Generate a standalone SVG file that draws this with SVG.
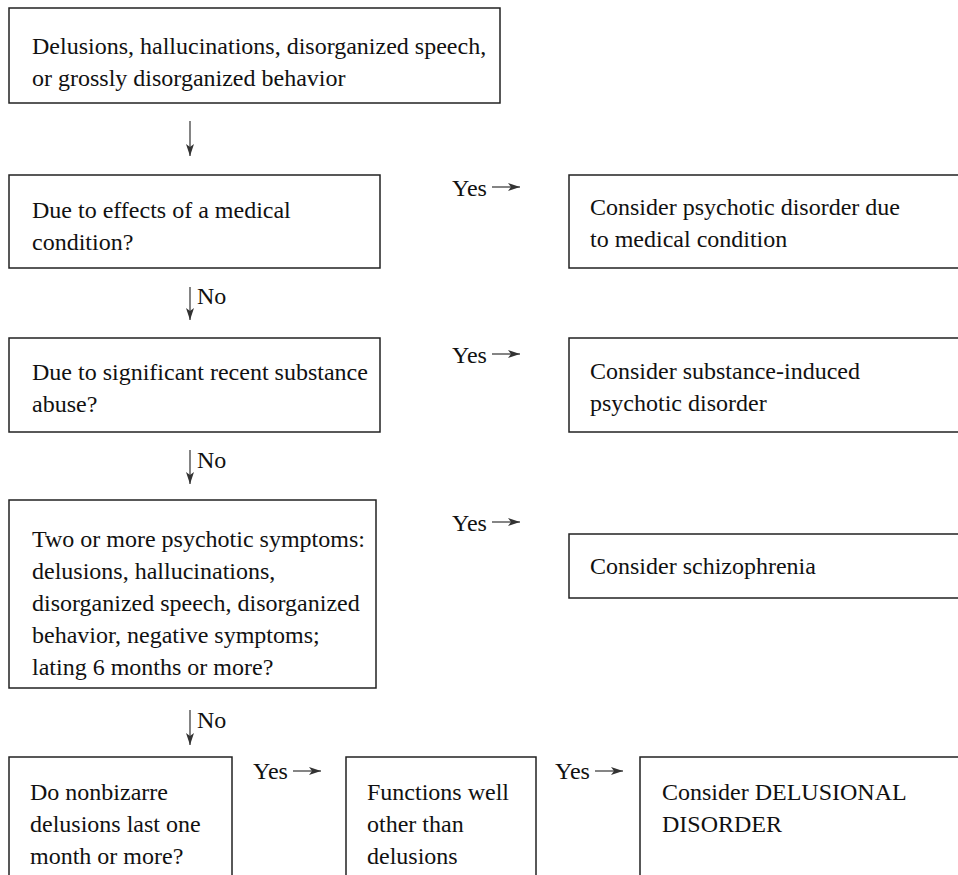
<svg xmlns="http://www.w3.org/2000/svg" width="958" height="875" viewBox="0 0 958 875">
<defs>
<style>
.box{fill:#fff;stroke:#222;stroke-width:1.5}
.t{font-size:24px;fill:#111}
.c{stroke:#333;stroke-width:1.2;fill:none}
</style>
<marker id="ah" viewBox="0 0 12 8" refX="12" refY="4" markerWidth="12" markerHeight="8" markerUnits="userSpaceOnUse" orient="auto">
<path d="M0,0 L12,4 L0,8 L3,4 Z" fill="#333"/>
</marker>
</defs>
<rect width="958" height="875" fill="#fff"/>
<g font-family="'Liberation Serif', Tinos, 'Times New Roman', 'DejaVu Serif', serif">
<g id="n1"><rect class="box" x="9" y="8" width="491" height="95"/>
<text class="t" x="32" y="54">Delusions, hallucinations, disorganized speech,</text>
<text class="t" x="32" y="86">or grossly disorganized behavior</text></g>
<g id="n2"><rect class="box" x="9" y="175" width="371" height="93"/>
<text class="t" x="32" y="218">Due to effects of a medical</text>
<text class="t" x="32" y="250">condition?</text></g>
<g id="r1"><rect class="box" x="569" y="175" width="400" height="93"/>
<text class="t" x="590" y="215">Consider psychotic disorder due</text>
<text class="t" x="590" y="247">to medical condition</text></g>
<g id="n3"><rect class="box" x="9" y="338" width="371" height="94"/>
<text class="t" x="32" y="380">Due to significant recent substance</text>
<text class="t" x="32" y="412">abuse?</text></g>
<g id="r2"><rect class="box" x="569" y="338" width="400" height="94"/>
<text class="t" x="590" y="379">Consider substance-induced</text>
<text class="t" x="590" y="411">psychotic disorder</text></g>
<g id="n4"><rect class="box" x="9" y="500" width="367" height="188"/>
<text class="t" x="32" y="547">Two or more psychotic symptoms:</text>
<text class="t" x="32" y="579">delusions, hallucinations,</text>
<text class="t" x="32" y="611">disorganized speech, disorganized</text>
<text class="t" x="32" y="643">behavior, negative symptoms;</text>
<text class="t" x="32" y="675">lating 6 months or more?</text></g>
<g id="r3"><rect class="box" x="569" y="534" width="400" height="64"/>
<text class="t" x="590" y="574">Consider schizophrenia</text></g>
<g id="n5"><rect class="box" x="9" y="757" width="223" height="140"/>
<text class="t" x="30" y="800">Do nonbizarre</text>
<text class="t" x="30" y="832">delusions last one</text>
<text class="t" x="30" y="864">month or more?</text></g>
<g id="n6"><rect class="box" x="346" y="757" width="190" height="140"/>
<text class="t" x="367" y="800">Functions well</text>
<text class="t" x="367" y="832">other than</text>
<text class="t" x="367" y="864">delusions</text></g>
<g id="r4"><rect class="box" x="640" y="757" width="400" height="140"/>
<text class="t" x="662" y="800">Consider DELUSIONAL</text>
<text class="t" x="662" y="832">DISORDER</text></g>
<g id="connectors">
<line class="c" x1="190" y1="121" x2="190" y2="156" marker-end="url(#ah)"/>
<line class="c" x1="190" y1="287" x2="190" y2="320" marker-end="url(#ah)"/>
<text class="t" x="197" y="304">No</text>
<line class="c" x1="190" y1="450" x2="190" y2="484" marker-end="url(#ah)"/>
<text class="t" x="197" y="468">No</text>
<line class="c" x1="190" y1="710" x2="190" y2="745" marker-end="url(#ah)"/>
<text class="t" x="197" y="728">No</text>
<text class="t" x="452" y="196">Yes</text>
<line class="c" x1="492" y1="187" x2="520" y2="187" marker-end="url(#ah)"/>
<text class="t" x="452" y="363">Yes</text>
<line class="c" x1="492" y1="354" x2="520" y2="354" marker-end="url(#ah)"/>
<text class="t" x="452" y="531">Yes</text>
<line class="c" x1="492" y1="522" x2="520" y2="522" marker-end="url(#ah)"/>
<text class="t" x="253" y="779">Yes</text>
<line class="c" x1="293" y1="771" x2="321" y2="771" marker-end="url(#ah)"/>
<text class="t" x="555" y="779">Yes</text>
<line class="c" x1="595" y1="771" x2="623" y2="771" marker-end="url(#ah)"/>
</g>
</g>
</svg>
